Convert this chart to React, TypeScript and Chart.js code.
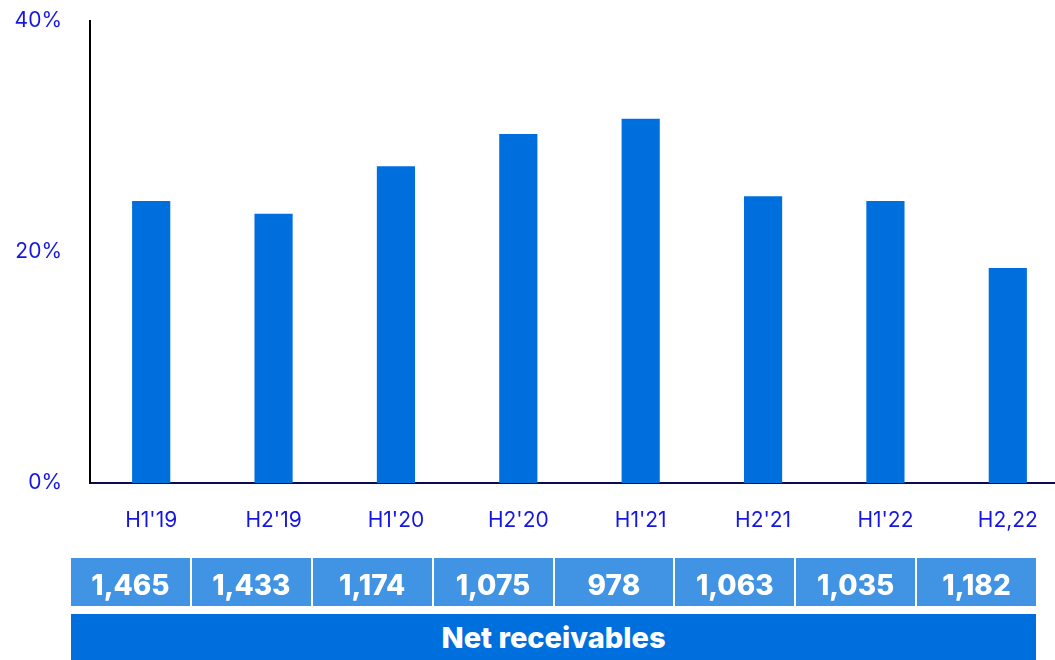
import React, { useEffect, useRef } from "react";
import { Chart, registerables } from "chart.js";

Chart.register(...registerables);

// Half-year periods and the share plotted for each one (percent)
const periods = ["H1'19", "H2'19", "H1'20", "H2'20", "H1'21", "H2'21", "H1'22", "H2,22"];
const shareValues = [24.4, 23.3, 27.4, 30.2, 31.5, 24.8, 24.4, 18.6];

// Net receivables shown in the table under the chart
const netReceivables = ["1,465", "1,433", "1,174", "1,075", "978", "1,063", "1,035", "1,182"];
const tableTitle = "Net receivables";

// Y-axis ticks (percent)
const yTicks = [0, 20, 40];

const FONT = "Inter, 'DejaVu Sans', sans-serif";
const BAR_BLUE = "#006fde";
const CELL_BLUE = "#4193e4";
const LABEL_BLUE = "#1616e2";

export default function App() {
  const canvasRef = useRef<HTMLCanvasElement | null>(null);

  useEffect(() => {
    document.body.style.margin = "0";
    document.body.style.overflow = "hidden";
    const canvas = canvasRef.current;
    if (!canvas) return;
    const chart = new Chart(canvas, {
      type: "bar",
      data: {
        labels: periods,
        datasets: [
          {
            data: shareValues,
            backgroundColor: BAR_BLUE,
            borderWidth: 0,
            barPercentage: 0.312,
            categoryPercentage: 1,
          },
        ],
      },
      options: {
        animation: false,
        responsive: false,
        maintainAspectRatio: false,
        devicePixelRatio: 1,
        layout: { padding: { top: 0, right: 1, left: 0, bottom: 0 } },
        plugins: {
          legend: { display: false },
          tooltip: { enabled: false },
        },
        scales: {
          x: {
            grid: { display: false, drawTicks: false },
            border: { display: true, color: "#0b0b52", width: 2 },
            ticks: {
              color: LABEL_BLUE,
              font: { family: FONT, size: 21 },
              padding: 25,
              maxRotation: 0,
              autoSkip: false,
            },
            afterFit: (scale: any) => {
              scale.height = 77;
            },
          },
          y: {
            min: 0,
            max: 40,
            grid: { display: false, drawTicks: false },
            border: { display: true, color: "#000000", width: 2 },
            afterBuildTicks: (scale: any) => {
              scale.ticks = yTicks.map((v) => ({ value: v }));
            },
            ticks: {
              color: LABEL_BLUE,
              font: { family: FONT, size: 21 },
              padding: 28,
              callback: (v: any) => `${v}%`,
            },
            afterFit: (scale: any) => {
              scale.width = 90;
            },
          },
        },
      },
    });
    return () => chart.destroy();
  }, []);

  return (
    <div
      style={{
        position: "fixed",
        left: 0,
        top: 0,
        width: 1055,
        height: 660,
        overflow: "hidden",
        background: "#ffffff",
        fontFamily: FONT,
      }}
    >
      <canvas
        ref={canvasRef}
        width={1070}
        height={580}
        style={{ position: "absolute", left: 0, top: -20, width: 1070, height: 580 }}
      />
      <div
        style={{
          position: "absolute",
          left: 71,
          top: 558,
          width: 965,
          height: 48,
          display: "grid",
          gridTemplateColumns: `repeat(${netReceivables.length}, 1fr)`,
          columnGap: 2,
        }}
      >
        {netReceivables.map((v, i) => (
          <div
            key={i}
            style={{
              background: CELL_BLUE,
              color: "#ffffff",
              fontWeight: 800,
              fontSize: 28,
              paddingTop: 6,
              boxSizing: "border-box",
              display: "flex",
              alignItems: "center",
              justifyContent: "center",
            }}
          >
            {v}
          </div>
        ))}
      </div>
      <div
        style={{
          position: "absolute",
          left: 71,
          top: 614,
          width: 965,
          height: 46,
          background: BAR_BLUE,
          color: "#ffffff",
          fontWeight: 800,
          fontSize: 29,
          display: "flex",
          alignItems: "center",
          justifyContent: "center",
        }}
      >
        {tableTitle}
      </div>
    </div>
  );
}
